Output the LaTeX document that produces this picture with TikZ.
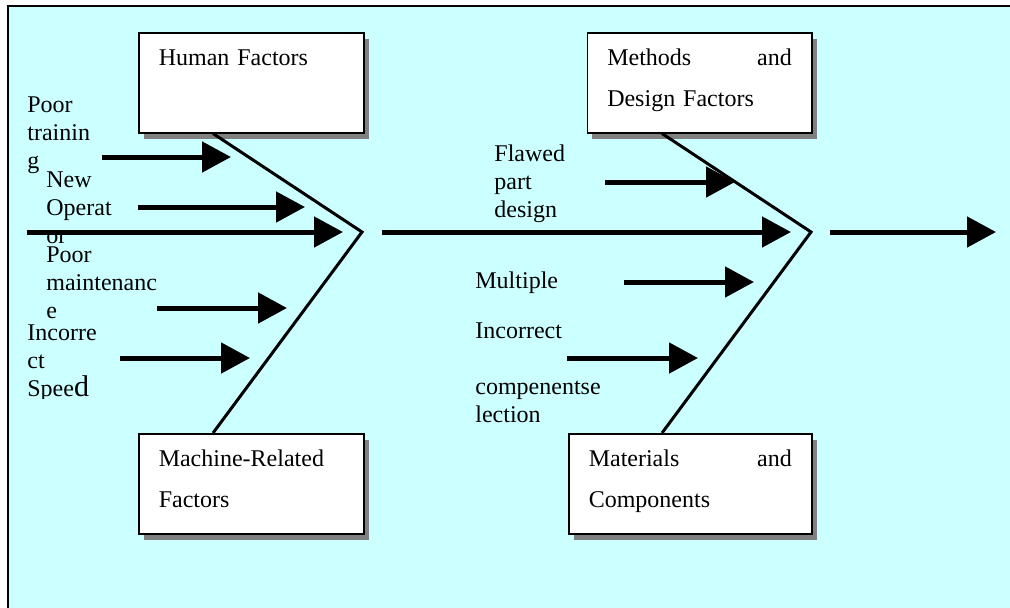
\documentclass[tikz,border=0pt]{standalone}
\usepackage{fontspec}
\setmainfont{Liberation Serif}
\usetikzlibrary{arrows.meta,shadows}
\definecolor{bgcyan}{RGB}{204,255,255}

\tikzset{
  factor/.style={draw, fill=white, line width=0.75pt, anchor=north west,
    inner xsep=10pt, inner ysep=0pt, text height=16.3pt, text depth=33.7pt,
    align=left, font=\fontsize{12}{20.5}\selectfont,
    drop shadow={shadow xshift=2.5pt, shadow yshift=-3pt, fill=black!50, opacity=1}},
  cause/.style={anchor=base west, inner sep=0pt, align=left,
    font=\fontsize{12}{13.8}\selectfont},
  bone/.style={line width=1.5pt},
  arr/.style={line width=2.5pt, -{Triangle[length=14.5pt, width=15pt]}},
}

\begin{document}
\begin{tikzpicture}[x=0.5pt, y=-0.5pt]
%
	\useasboundingbox (0,0) rectangle (1010,607);
	\clip (0,0) rectangle (1010,607);
	\draw[line width=1pt, fill=bgcyan] (8,6) rectangle (1040,640);
%
	\node[factor, text width=92.5pt] (human) at (138,32) {Human Factors};
	\node[factor, text width=92.25pt] (methods) at (586.5,32) {Methods \hfill and\\Design Factors};
	\node[factor, text width=92.5pt] (machine) at (138,433) {Machine-Related\\Factors};
	\node[factor, text width=101.5pt] (materials) at (568,433) {Materials \hfill and\\Components};
%
	% multi-line labels sit on the baseline of their last line
	\node[cause] (training) at (27,168) {Poor\\trainin\\g};
	\node[cause] (operator) at (46,243) {New\\Operat\\or};
	\node[cause] (maint) at (46,318) {Poor\\maintenanc\\e};
	\begin{scope}
		\clip (0,0) rectangle (470,398);
		\node[cause] (speed) at (27,396) {Incorre\\ct\\Spee{\fontsize{15}{14}\selectfont d}};
	\end{scope}
	\node[cause] (design) at (494,217) {Flawed\\part\\design};
	\node[cause] (multiple) at (475,288) {Multiple};
	\node[cause] (incorrect) at (475,338) {Incorrect};
	\node[cause] (selection) at (475,422) {compenentse\\lection};
%
	\coordinate (tail) at (27,232);
	\coordinate (v1) at (362,232);
	\coordinate (v2) at (811,232);
	\coordinate (head) at (996,232);
%
	\draw[bone] ([xshift=37.5pt]human.south west) -- (v1) -- ([xshift=37.5pt]machine.north west);
	\draw[bone] ([xshift=37.75pt]methods.south west) -- (v2) -- ([xshift=47pt]materials.north west);
%
	\draw[arr] (tail) -- ([xshift=-9.5pt]v1);
	\draw[arr] ([xshift=10pt]v1) -- ([xshift=-10pt]v2);
	\draw[arr] ([xshift=9.5pt]v2) -- (head);
%
	\draw[arr] (102,157) -- (231,157);
	\draw[arr] (138,207) -- (305,207);
	\draw[arr] (157,308) -- (287,308);
	\draw[arr] (120,358) -- (250,358);
	\draw[arr] (605,182) -- (735,182);
	\draw[arr] (624,282) -- (754,282);
	\draw[arr] (567,358) -- (698,358);
\end{tikzpicture}
\end{document}
